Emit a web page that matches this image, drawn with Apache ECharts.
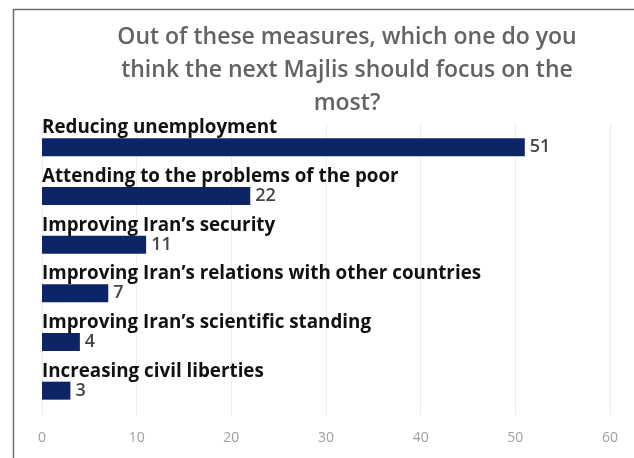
<!DOCTYPE html>
<html><head><meta charset="utf-8">
<script src="https://cdn.jsdelivr.net/npm/echarts@6/dist/echarts.min.js"></script>
<style>html,body{margin:0;padding:0;background:#fff}#c{width:634px;height:458px}</style>
</head><body><div id="c"></div>
<script>
const titleText = "Out of these measures, which one do you\nthink the next Majlis should focus on the\nmost?";
const categories = [
  "Reducing unemployment",
  "Attending to the problems of the poor",
  "Improving Iran\u2019s security",
  "Improving Iran\u2019s relations with other countries",
  "Improving Iran\u2019s scientific standing",
  "Increasing civil liberties"
];
const values = [51, 22, 11, 7, 4, 3];
const xTicks = [0, 10, 20, 30, 40, 50, 60];

const chart = echarts.init(document.getElementById('c'), null, {renderer: 'canvas'});
chart.setOption({
  backgroundColor: '#fff',
  animation: false,
  graphic: [{
    type: 'rect', left: 11, top: 7, silent: true,
    shape: {width: 700, height: 520},
    style: {fill: 'none', stroke: '#6b6b6b', lineWidth: 1.5}
  }],
  title: {
    text: titleText,
    left: 342, textAlign: 'center', top: 16,
    textStyle: {fontFamily: 'Open Sans', fontSize: 23, fontWeight: 600, color: '#636363', lineHeight: 33}
  },
  grid: {left: 42, right: 24, top: 123, bottom: 43},
  xAxis: {
    type: 'value', min: xTicks[0], max: xTicks[xTicks.length - 1], interval: 10,
    axisLine: {show: false}, axisTick: {show: false},
    splitLine: {show: true, lineStyle: {color: '#ececec', width: 1}},
    axisLabel: {color: '#a0a0a0', fontFamily: 'Open Sans', fontSize: 14, margin: 16}
  },
  yAxis: {
    type: 'category', data: categories, inverse: true,
    axisLine: {show: false}, axisTick: {show: false},
    axisLabel: {
      inside: true, align: 'left', verticalAlign: 'bottom', margin: 0,
      padding: [0, 0, 10, 0],
      color: '#111', fontFamily: 'Open Sans', fontWeight: 'bold', fontSize: 18.8
    }
  },
  series: [{
    type: 'bar', data: values, barWidth: 18,
    itemStyle: {color: '#0b2566'},
    label: {show: true, position: 'right', distance: 5, color: '#444', fontFamily: 'Open Sans', fontWeight: 600, fontSize: 18}
  }]
});
</script></body></html>
